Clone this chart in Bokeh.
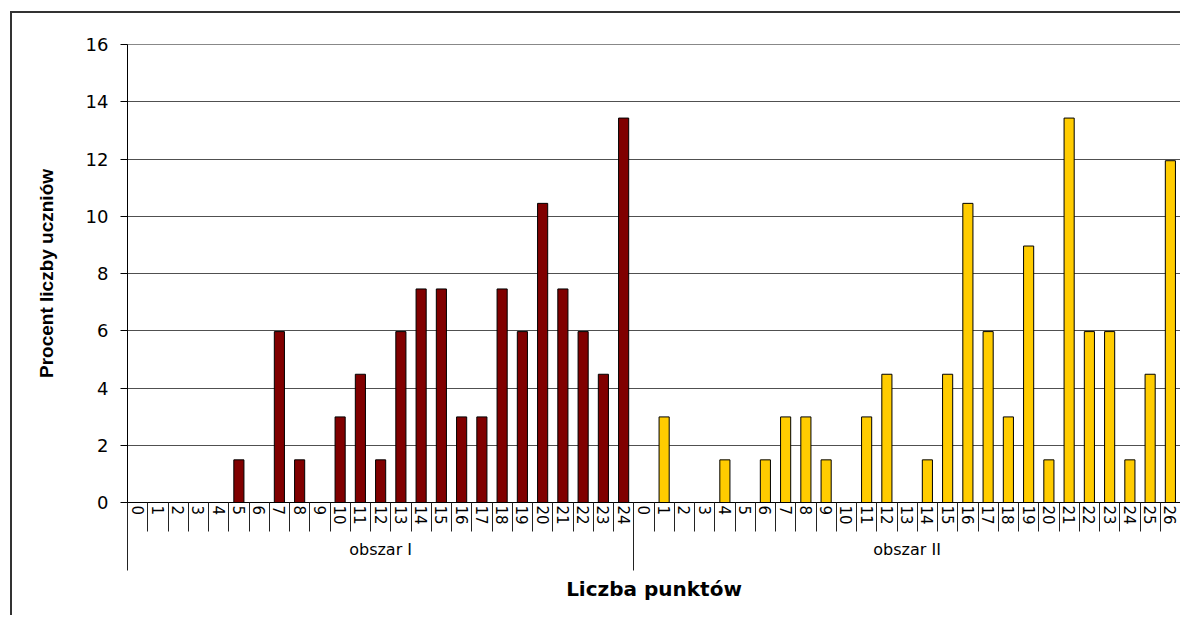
from bokeh.plotting import figure
from bokeh.models import Range1d, FixedTicker, LinearAxis, ColumnDataSource
from bokeh.embed import file_html
from bokeh.resources import INLINE

# ---- data ----
group_1 = "obszar I"
group_2 = "obszar II"
points_1 = [str(i) for i in range(25)]
values_1 = [0, 0, 0, 0, 0, 1.49, 0, 5.97, 1.49, 0, 2.99, 4.48, 1.49, 5.97, 7.46,
            7.46, 2.99, 2.99, 7.46, 5.97, 10.45, 7.46, 5.97, 4.48, 13.43]
points_2 = [str(i) for i in range(27)]
values_2 = [0, 2.99, 0, 0, 1.49, 0, 1.49, 2.99, 2.99, 1.49, 0, 2.99, 4.48, 0, 1.49,
            4.48, 10.45, 5.97, 2.99, 8.96, 1.49, 13.43, 5.97, 5.97, 1.49, 4.48, 11.94]
y_ticks = [0, 2, 4, 6, 8, 10, 12, 14, 16]
y_title = "Procent liczby uczniów"
x_title = "Liczba punktów"
color_1 = "#800000"
color_2 = "#FFCC00"

n1 = len(points_1)
n2 = len(points_2)
n = n1 + n2
# category slot index -> centre position on a linear scale (one unit per category)
xs_1 = [i + 0.5 for i in range(n1)]
xs_2 = [n1 + i + 0.5 for i in range(n2)]

W, H = 1170, 604
TOP, FRAME_H = 31, 458
p = figure(width=W, height=H, x_range=Range1d(0, n), y_range=Range1d(0, 16),
           x_axis_location=None, output_backend="svg", toolbar_location=None,
           min_border_left=115, min_border_right=2, min_border_top=TOP,
           min_border_bottom=H - TOP - FRAME_H)
p.styles = {"border-left": "2px solid #333", "border-top": "2px solid #333",
            "margin-left": "10px", "margin-top": "11px"}
p.outline_line_color = "#888888"
p.background_fill_color = "white"
p.border_fill_color = "white"

src1 = ColumnDataSource(dict(x=xs_1, top=values_1))
src2 = ColumnDataSource(dict(x=xs_2, top=values_2))
p.vbar(x="x", top="top", width=0.5, source=src1, fill_color=color_1,
       line_color="black", line_width=1)
p.vbar(x="x", top="top", width=0.5, source=src2, fill_color=color_2,
       line_color="black", line_width=1)

# y axis
ya = p.yaxis[0]
ya.ticker = FixedTicker(ticks=y_ticks)
ya.axis_label = y_title
ya.axis_label_text_font = "Liberation Sans"
ya.axis_label_text_font_style = "bold"
ya.axis_label_text_font_size = "19px"
ya.axis_label_text_color = "black"
ya.axis_label_standoff = 26
ya.major_label_text_font = "DejaVu Sans"
ya.major_label_text_font_size = "18px"
ya.major_label_text_color = "black"
ya.major_label_standoff = 12
ya.major_tick_out = 7
ya.major_tick_in = 0
ya.minor_tick_line_color = None
ya.axis_line_color = "black"
ya.major_tick_line_color = "black"
p.ygrid.grid_line_color = "#505050"
p.ygrid.ticker = FixedTicker(ticks=y_ticks)
for g in p.xgrid:
    g.visible = False

# category labels with separators (separators = minor ticks at slot edges)
centers = xs_1 + xs_2
bounds = [float(i) for i in range(n + 1)]
labels = points_1 + points_2
ax_a = LinearAxis(ticker=FixedTicker(ticks=centers, minor_ticks=bounds),
                  major_label_overrides={c: l for c, l in zip(centers, labels)})
ax_a.major_label_orientation = "vertical"
ax_a.major_label_text_font = "DejaVu Sans"
ax_a.major_label_text_font_size = "15px"
ax_a.major_label_text_color = "black"
ax_a.major_label_standoff = -26
ax_a.major_tick_line_color = None
ax_a.major_tick_out = 0
ax_a.major_tick_in = 0
ax_a.minor_tick_line_color = "#222222"
ax_a.minor_tick_out = 29
ax_a.minor_tick_in = 0
ax_a.axis_line_color = "black"
p.add_layout(ax_a, "below")

# group labels with separators + title
group_centers = [n1 / 2, n1 + n2 / 2]
ax_b = LinearAxis(ticker=FixedTicker(ticks=group_centers, minor_ticks=[0.0, float(n1), float(n)]),
                  major_label_overrides={group_centers[0]: group_1, group_centers[1]: group_2})
ax_b.major_label_text_font = "DejaVu Sans"
ax_b.major_label_text_font_size = "16px"
ax_b.major_label_text_color = "black"
ax_b.major_label_standoff = -31
ax_b.major_tick_line_color = None
ax_b.major_tick_out = 0
ax_b.major_tick_in = 0
ax_b.minor_tick_line_color = "#222222"
ax_b.minor_tick_in = 22
ax_b.minor_tick_out = 43
ax_b.axis_line_color = None
ax_b.axis_label = x_title
ax_b.axis_label_text_font = "DejaVu Sans"
ax_b.axis_label_text_font_style = "bold"
ax_b.axis_label_text_font_size = "20px"
ax_b.axis_label_text_color = "black"
ax_b.axis_label_standoff = 15
p.add_layout(ax_b, "below")

open("out.html", "w").write(file_html(p, INLINE))
